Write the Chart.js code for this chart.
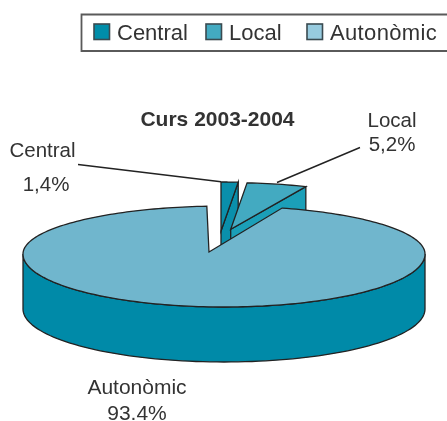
<!DOCTYPE html>
<html>
<head>
<meta charset="utf-8">
<style>html,body{margin:0;padding:0;background:#fff}canvas{display:block}</style>
<script src="https://cdn.jsdelivr.net/npm/chart.js@4/dist/chart.umd.js"></script>
</head>
<body>
<canvas id="c" width="447" height="421"></canvas>
<script>
const chartTitle = 'Curs 2003-2004';
const categories = ['Central', 'Local', 'Autonòmic'];
const shares = [1.4, 5.2, 93.4];
const shareLabels = ['1,4%', '5,2%', '93.4%'];
const legendColors = ['#008da9', '#43aac1', '#97cbdf'];
const topColors = ['#0a8fab', '#43aac1', '#70b6cd'];
const sideColors = ['#0a8fab', '#1b9fb8', '#008aa8'];

const FONT = '"Liberation Sans", Arial, sans-serif';
const INK = '#333333';
const DEPTH = 55;
const CY = 254;
const RY_BACK = 48, RY_FRONT = 53;
const D2R = Math.PI / 180;

function deg(a) { return (a + Math.PI / 2) / D2R; }

function poly(ctx, pts, fill, close) {
  ctx.beginPath();
  pts.forEach((p, i) => i ? ctx.lineTo(p[0], p[1]) : ctx.moveTo(p[0], p[1]));
  if (close) ctx.closePath();
  if (fill) { ctx.fillStyle = fill; ctx.fill(); }
  ctx.strokeStyle = '#222';
  ctx.lineWidth = 1.3;
  ctx.lineJoin = 'miter';
  ctx.stroke();
}

function drawWedge(ctx, el, i, apexX, apexY, radius) {
  const a0 = deg(el.startAngle), a1 = deg(el.endAngle);
  const pt = a => [apexX + radius * Math.sin(a * D2R), apexY - radius * 0.25 * Math.cos(a * D2R)];
  const arc = [];
  for (let k = 0; k <= 12; k++) arc.push(pt(a0 + (a1 - a0) * k / 12));
  const end = arc[arc.length - 1];
  poly(ctx, [[apexX, apexY], end, [end[0], end[1] + DEPTH], [apexX, apexY + DEPTH]], sideColors[i], true);
  poly(ctx, [[apexX, apexY]].concat(arc), topColors[i], true);
}

function drawMain(ctx, el, i) {
  const cx = el.x, rx = el.outerRadius;
  const rimPt = a => {
    const c = Math.cos(a * D2R);
    return [cx + rx * Math.sin(a * D2R), CY - (c > 0 ? RY_BACK : RY_FRONT) * c];
  };
  const front = [], back = [];
  for (let a = 90; a <= 270; a += 2) front.push(rimPt(a));
  for (let a = 270; a >= 90; a -= 2) { const p = rimPt(a); back.push([p[0], p[1] + DEPTH]); }
  poly(ctx, front.concat(back), sideColors[i], true);

  const s = deg(el.startAngle), e = deg(el.endAngle);
  const rimS = 16.8, rimE = 355.1;
  const top = [[cx - 15, CY - 2]];
  for (let k = 0; k <= 240; k++) {
    const a = s + (e - s) * k / 240;
    top.push(rimPt(rimS + (a - s) * (rimE - rimS) / (e - s)));
  }
  poly(ctx, top, topColors[i], true);
}

function drawText(ctx, text, x, y, font, align) {
  ctx.font = font;
  ctx.fillStyle = INK;
  ctx.textAlign = align || 'center';
  ctx.textBaseline = 'alphabetic';
  ctx.fillText(text, x, y);
}

const pie3d = {
  id: 'pie3d',
  beforeDatasetDraw(chart, args) {
    const ctx = chart.ctx, arcs = args.meta.data;
    ctx.save();
    drawWedge(ctx, arcs[0], 0, 221, 231, 196);
    drawWedge(ctx, arcs[1], 1, 230.7, 229.3, 186.5);
    drawMain(ctx, arcs[2], 2);
    ctx.restore();
    return false;
  },
  afterDraw(chart) {
    const ctx = chart.ctx;
    ctx.save();
    // legend frame
    ctx.strokeStyle = '#5a5a5a';
    ctx.lineWidth = 1.8;
    ctx.beginPath();
    ctx.moveTo(449, 14.5); ctx.lineTo(81.5, 14.5); ctx.lineTo(81.5, 51); ctx.lineTo(449, 51);
    ctx.stroke();
    const swatchX = [94, 206, 307], textX = [117, 229, 330];
    categories.forEach((name, i) => {
      ctx.fillStyle = legendColors[i];
      ctx.strokeStyle = '#3a4a50';
      ctx.lineWidth = 1.6;
      ctx.fillRect(swatchX[i], 24, 15.5, 15.5);
      ctx.strokeRect(swatchX[i], 24, 15.5, 15.5);
      ctx.letterSpacing = i === 2 ? '0.35px' : '0px';
      drawText(ctx, name, textX[i], 40, '22px ' + FONT, 'left');
    });
    ctx.letterSpacing = '0px';
    // title
    drawText(ctx, chartTitle, 217.5, 126, 'bold 21px ' + FONT);
    // leader lines
    ctx.strokeStyle = '#222';
    ctx.lineWidth = 1.4;
    ctx.beginPath();
    ctx.moveTo(78, 164.5); ctx.lineTo(221, 181.7);
    ctx.moveTo(277, 182.5); ctx.lineTo(360, 147.5);
    ctx.stroke();
    // data labels
    const f = '20.5px ' + FONT;
    drawText(ctx, categories[0], 42.5, 157, f);
    drawText(ctx, shareLabels[0], 46, 191, f);
    drawText(ctx, categories[1], 392, 127, f);
    drawText(ctx, shareLabels[1], 392, 151, f);
    drawText(ctx, categories[2], 137, 394, '21px ' + FONT);
    drawText(ctx, shareLabels[2], 137, 420, '21px ' + FONT);
    ctx.restore();
  }
};

new Chart(document.getElementById('c'), {
  type: 'pie',
  data: {
    labels: categories,
    datasets: [{ data: shares, backgroundColor: topColors, borderWidth: 0 }]
  },
  options: {
    responsive: false,
    animation: false,
    layout: { padding: { left: 23, right: 22, top: 8, bottom: 9 } },
    plugins: { legend: { display: false }, title: { display: false }, tooltip: { enabled: false } }
  },
  plugins: [pie3d]
});
</script>
</body>
</html>
